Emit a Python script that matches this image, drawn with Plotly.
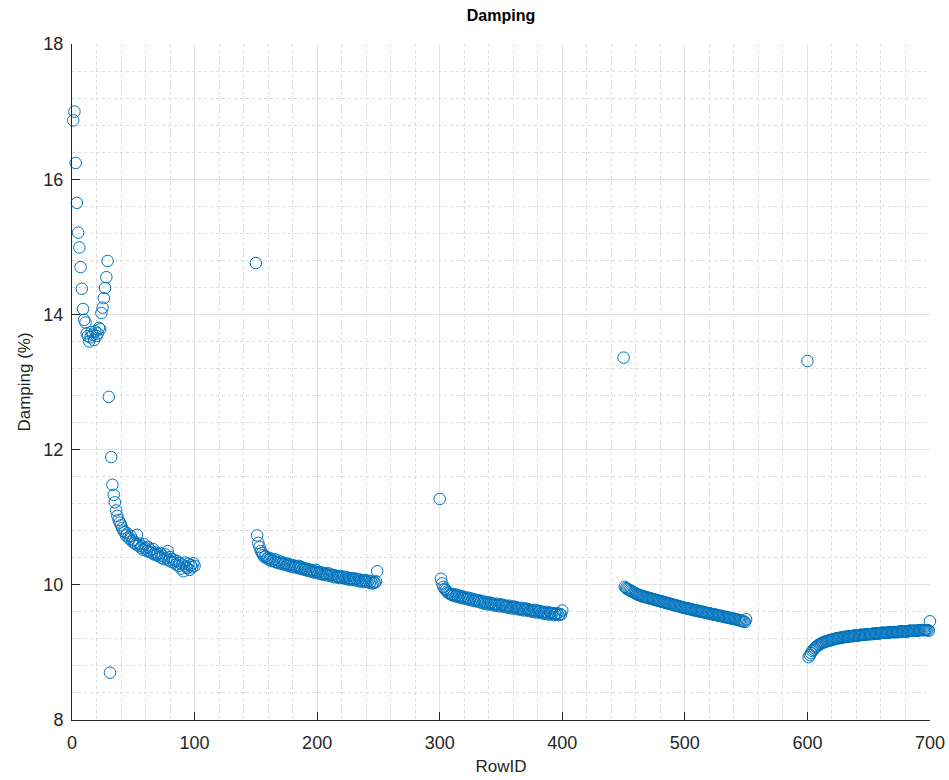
import plotly.graph_objects as go

# Row IDs of each block of measurements
row_id_1 = list(range(1, 101))
row_id_2 = list(range(150, 250))
row_id_3 = list(range(300, 401))
row_id_4 = list(range(450, 551))
row_id_5 = list(range(600, 701))

damping_1 = [
    16.87, 17.00, 16.24, 15.65, 15.21, 14.99, 14.70, 14.38, 14.08, 13.92,
    13.88, 13.72, 13.68, 13.60, 13.66, 13.74, 13.70, 13.62, 13.75, 13.68,
    13.72, 13.80, 13.78, 14.02, 14.10, 14.24, 14.39, 14.55, 14.79, 12.78,
    8.70, 11.89, 11.48, 11.33, 11.22, 11.10, 11.02, 10.96, 10.92, 10.88,
    10.84, 10.80, 10.78, 10.73, 10.76, 10.70, 10.68, 10.72, 10.64, 10.66,
    10.62, 10.60, 10.74, 10.58, 10.61, 10.55, 10.57, 10.52, 10.60, 10.54,
    10.50, 10.56, 10.49, 10.51, 10.47, 10.53, 10.45, 10.48, 10.44, 10.46,
    10.42, 10.47, 10.40, 10.43, 10.38, 10.45, 10.39, 10.50, 10.36, 10.41,
    10.34, 10.38, 10.33, 10.36, 10.30, 10.35, 10.28, 10.32, 10.24, 10.30,
    10.20, 10.33, 10.27, 10.25, 10.31, 10.22, 10.29, 10.26, 10.32, 10.28,
]

damping_2 = [
    14.76, 10.73, 10.62, 10.56, 10.50, 10.47, 10.44, 10.41, 10.42, 10.39, 10.40,
    10.37, 10.39, 10.35, 10.36, 10.38, 10.34, 10.33, 10.36, 10.32, 10.34,
    10.31, 10.33, 10.30, 10.32, 10.29, 10.31, 10.28, 10.30, 10.27, 10.29,
    10.26, 10.28, 10.27, 10.25, 10.28, 10.24, 10.26, 10.23, 10.25, 10.22,
    10.24, 10.21, 10.23, 10.20, 10.22, 10.19, 10.21, 10.18, 10.22, 10.19,
    10.17, 10.19, 10.16, 10.18, 10.15, 10.17, 10.16, 10.14, 10.17, 10.15,
    10.13, 10.15, 10.12, 10.14, 10.11, 10.13, 10.12, 10.10, 10.13, 10.11,
    10.10, 10.12, 10.09, 10.11, 10.08, 10.10, 10.09, 10.07, 10.10, 10.08,
    10.07, 10.09, 10.06, 10.08, 10.05, 10.07, 10.06, 10.04, 10.07, 10.05,
    10.04, 10.06, 10.03, 10.05, 10.02, 10.04, 10.03, 10.05, 10.20,
]

damping_3 = [
    11.27, 10.09, 10.02, 9.97, 9.94, 9.92, 9.90, 9.88, 9.87, 9.86, 9.85,
    9.84, 9.86, 9.83, 9.85, 9.82, 9.84, 9.81, 9.83, 9.80, 9.82,
    9.80, 9.79, 9.81, 9.78, 9.80, 9.77, 9.79, 9.76, 9.78, 9.77,
    9.75, 9.77, 9.74, 9.76, 9.73, 9.75, 9.72, 9.74, 9.71, 9.74,
    9.72, 9.73, 9.70, 9.72, 9.71, 9.69, 9.72, 9.70, 9.68, 9.71,
    9.69, 9.70, 9.67, 9.69, 9.68, 9.66, 9.69, 9.67, 9.65, 9.68,
    9.66, 9.67, 9.64, 9.66, 9.65, 9.63, 9.66, 9.64, 9.62, 9.65,
    9.63, 9.64, 9.61, 9.63, 9.62, 9.60, 9.63, 9.61, 9.59, 9.62,
    9.60, 9.61, 9.58, 9.60, 9.59, 9.57, 9.60, 9.58, 9.56, 9.59,
    9.57, 9.58, 9.55, 9.57, 9.56, 9.58, 9.55, 9.57, 9.56, 9.62,
]

damping_4 = [
    13.36, 9.97, 9.95, 9.94, 9.93, 9.92, 9.91, 9.90, 9.89, 9.88, 9.87,
    9.86, 9.85, 9.85, 9.84, 9.83, 9.83, 9.82, 9.82, 9.81, 9.81,
    9.80, 9.80, 9.79, 9.79, 9.78, 9.78, 9.77, 9.77, 9.76, 9.76,
    9.75, 9.75, 9.74, 9.74, 9.73, 9.73, 9.72, 9.72, 9.71, 9.71,
    9.70, 9.70, 9.69, 9.69, 9.68, 9.68, 9.67, 9.67, 9.66, 9.66,
    9.65, 9.65, 9.65, 9.64, 9.64, 9.63, 9.63, 9.62, 9.62, 9.62,
    9.61, 9.61, 9.60, 9.60, 9.60, 9.59, 9.59, 9.58, 9.58, 9.58,
    9.57, 9.57, 9.56, 9.56, 9.56, 9.55, 9.55, 9.54, 9.54, 9.54,
    9.53, 9.53, 9.52, 9.52, 9.52, 9.51, 9.51, 9.50, 9.50, 9.50,
    9.49, 9.49, 9.48, 9.48, 9.47, 9.47, 9.46, 9.46, 9.45, 9.49,
]

damping_5 = [
    13.31, 8.93, 8.96, 8.99, 9.02, 9.04, 9.06, 9.08, 9.09, 9.11, 9.12,
    9.13, 9.14, 9.15, 9.15, 9.16, 9.17, 9.17, 9.18, 9.18, 9.19,
    9.19, 9.20, 9.20, 9.21, 9.21, 9.21, 9.22, 9.22, 9.22, 9.23,
    9.23, 9.23, 9.23, 9.24, 9.24, 9.24, 9.24, 9.25, 9.25, 9.25,
    9.25, 9.25, 9.26, 9.26, 9.26, 9.26, 9.26, 9.27, 9.27, 9.27,
    9.27, 9.27, 9.27, 9.28, 9.28, 9.28, 9.28, 9.28, 9.28, 9.29,
    9.29, 9.29, 9.29, 9.29, 9.29, 9.29, 9.30, 9.30, 9.30, 9.30,
    9.30, 9.30, 9.30, 9.30, 9.31, 9.31, 9.31, 9.31, 9.31, 9.31,
    9.31, 9.31, 9.32, 9.32, 9.32, 9.32, 9.32, 9.32, 9.32, 9.32,
    9.33, 9.33, 9.33, 9.33, 9.33, 9.33, 9.33, 9.33, 9.32, 9.46,
]

x_ticks = [0, 100, 200, 300, 400, 500, 600, 700]
y_ticks = [8, 10, 12, 14, 16, 18]

row_id = row_id_1 + row_id_2 + row_id_3 + row_id_4 + row_id_5
damping = damping_1 + damping_2 + damping_3 + damping_4 + damping_5

FONT = "Liberation Sans, Arial, sans-serif"
BLUE = "#0072BD"
DARK = "#262626"

fig = go.Figure()
fig.add_trace(go.Scatter(
    x=row_id, y=damping, mode="markers", cliponaxis=False,
    marker=dict(symbol="circle-open", size=11.5, color=BLUE,
                line=dict(width=1, color=BLUE)),
    showlegend=False, hoverinfo="x+y",
))

axis_common = dict(
    showline=True, linecolor=DARK, linewidth=1,
    ticks="inside", ticklen=8, tickcolor=DARK, tickwidth=1,
    tickfont=dict(family=FONT, size=18, color=DARK),
    showgrid=True, gridcolor="#e3e3e3", gridwidth=1,
    zeroline=False, mirror=False, automargin=False,
)

fig.update_xaxes(
    range=[0, 700], tickvals=x_ticks, ticktext=[str(v) for v in x_ticks],
    ticklabelstandoff=6,
    title=dict(text="RowID", font=dict(family=FONT, size=17, color=DARK), standoff=8),
    minor=dict(dtick=20, tick0=0, showgrid=True, gridcolor="#dcdcdc", griddash="dot", gridwidth=1),
    **axis_common,
)
fig.update_yaxes(
    range=[8, 18], tickvals=y_ticks, ticktext=[str(v) for v in y_ticks],
    ticklabelstandoff=4,
    title=dict(text="Damping (%)", font=dict(family=FONT, size=17, color=DARK), standoff=8),
    minor=dict(dtick=0.4, tick0=8, showgrid=True, gridcolor="#dcdcdc", griddash="dot", gridwidth=1),
    **axis_common,
)

fig.update_layout(
    width=949, height=780,
    margin=dict(l=72, r=19, t=44, b=60),
    paper_bgcolor="white", plot_bgcolor="white",
    title=dict(text="<b>Damping</b>", x=501 / 949, xanchor="center",
               y=1 - 15 / 780, yanchor="middle", yref="container",
               font=dict(family=FONT, size=16, color="black")),
)

fig.write_html("out.html")
